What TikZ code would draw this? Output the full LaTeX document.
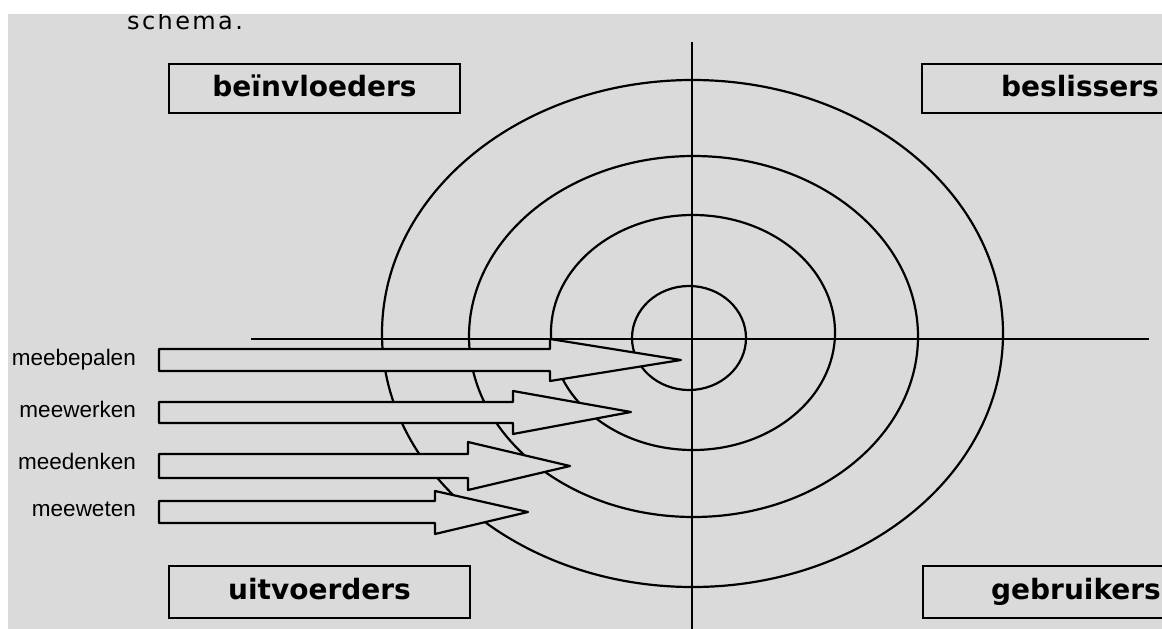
\documentclass[tikz,border=0pt]{standalone}
\usepackage{fontspec}
\setmainfont{DejaVu Sans}
\newfontfamily\labfont{Liberation Sans}
\newfontfamily\titlefont[LetterSpace=10]{DejaVu Sans}
\definecolor{bg}{RGB}{218,218,218}
\tikzset{
  ring/.style={draw=black, line width=2.2pt},
  axis/.style={draw=black, line width=2.2pt},
  blockarrow/.style={draw=black, fill=bg, line width=2.2pt, line join=round},
  boxst/.style={draw=black, fill=bg, line width=2.2pt, inner sep=0pt,
    font=\bfseries\fontsize{28}{30}\selectfont, text height=21pt, text depth=6pt},
  labst/.style={inner sep=0pt, font=\labfont\fontsize{22.5}{24}\selectfont},
}
\begin{document}
\begin{tikzpicture}[x=1pt,y=-1pt]
\useasboundingbox (0,0) rectangle (1162,629);
\fill[white] (0,0) rectangle (1162,629);
\begin{scope}
\clip (8,14) rectangle (1162,629);
\fill[bg] (8,14) rectangle (1162,629);
\node[anchor=base west, inner sep=0pt, font=\titlefont\fontsize{24}{26}\selectfont] (title) at (127,29) {schema.};
% rings
\draw[ring] (692.5,333.5) ellipse [x radius=310.5pt, y radius=253.5pt];
\draw[ring] (693.5,336.5) ellipse [x radius=224.5pt, y radius=180.5pt];
\draw[ring] (693,332.5) ellipse [x radius=142pt, y radius=117.5pt];
\draw[ring] (689,338) ellipse [x radius=57pt, y radius=52pt];
% axes
\coordinate (vt) at (692,42);
\coordinate (vb) at (692,629);
\coordinate (hl) at (251,339);
\coordinate (hr) at (1149,339);
\draw[axis] (vt) -- (vb);
\draw[axis] (hl) -- (hr);
% block arrows
\draw[blockarrow] (159,349) -- (550,349) -- (550,339) -- (681,360) -- (550,381) -- (550,371) -- (159,371) -- cycle;
\draw[blockarrow] (159,402) -- (513,402) -- (513,391) -- (631,412) -- (513,434) -- (513,423) -- (159,423) -- cycle;
\draw[blockarrow] (159,454) -- (468,454) -- (468,442) -- (570,466) -- (468,490) -- (468,478) -- (159,478) -- cycle;
\draw[blockarrow] (159,501) -- (435,501) -- (435,491) -- (528,512) -- (435,534) -- (435,523) -- (159,523) -- cycle;
% labels
\node[labst, anchor=base east] (l1) at (136,365) {meebepalen};
\node[labst, anchor=base east] (l2) at (136,417) {meewerken};
\node[labst, anchor=base east] (l3) at (136,469) {meedenken};
\node[labst, anchor=base east] (l4) at (136,516) {meeweten};
% boxes
\node[boxst, minimum width=291pt, minimum height=49pt] (binv) at (314.5,88.5) {beïnvloeders};
\node[boxst, minimum width=316pt, minimum height=49pt] (besl) at (1080,88.5) {beslissers};
\node[boxst, minimum width=301pt, minimum height=52pt] (uitv) at (319.5,592) {uitvoerders};
\node[boxst, minimum width=306pt, minimum height=52pt] (gebr) at (1076,592) {gebruikers};
\end{scope}
\end{tikzpicture}
\end{document}
